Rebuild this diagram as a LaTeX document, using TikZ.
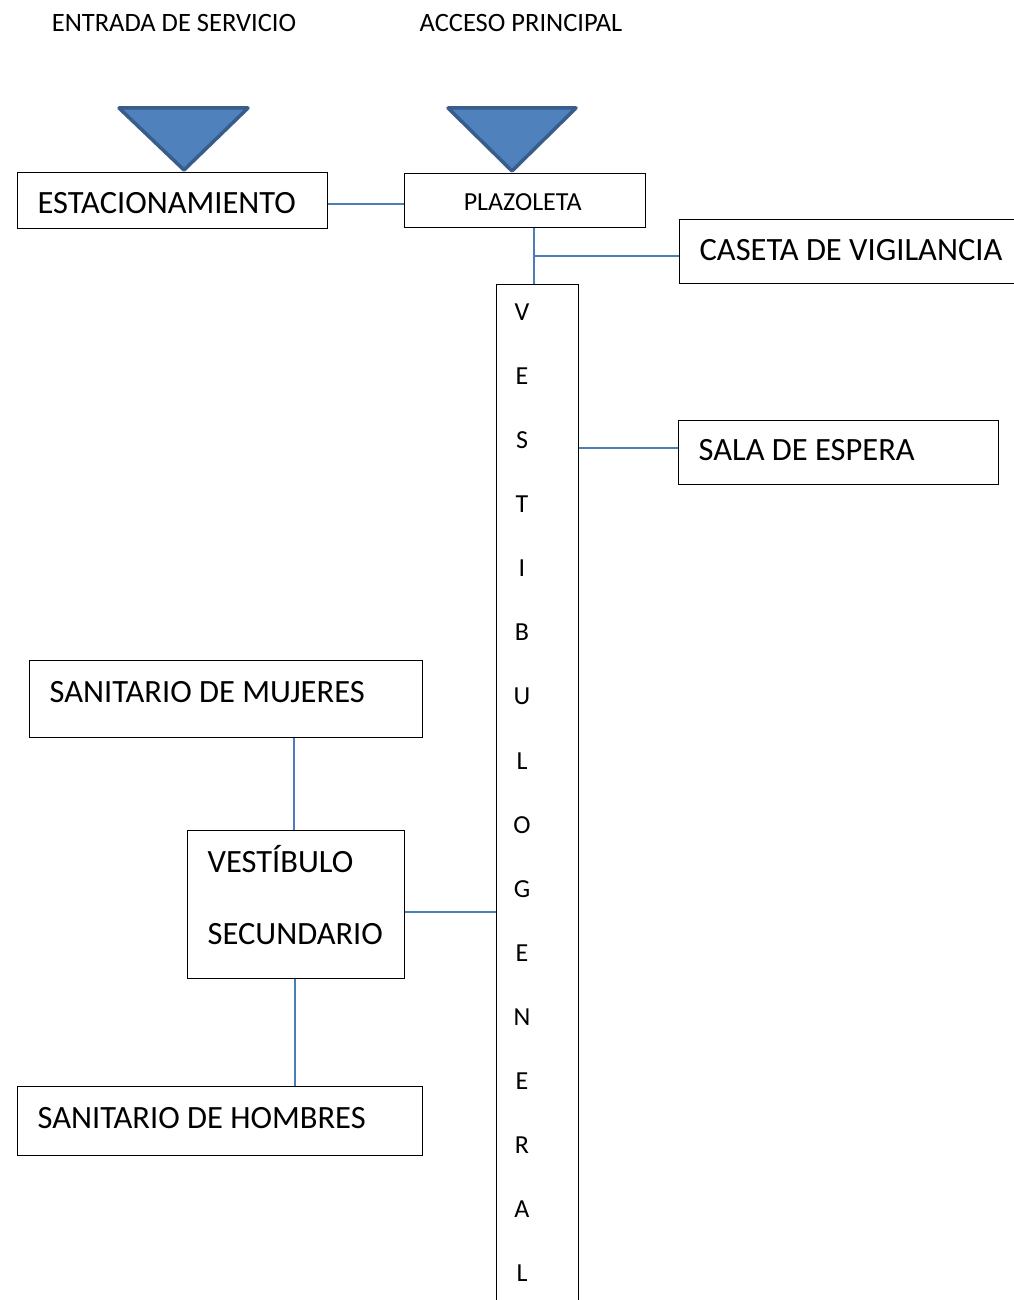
\documentclass[tikz,border=0pt]{standalone}
\usepackage{fontspec}
\setmainfont{Carlito}
\usetikzlibrary{positioning}
\definecolor{tri_fill}{HTML}{4F81BD}
\definecolor{tri_edge}{HTML}{385D8A}
\definecolor{link_blue}{HTML}{4A7EBB}
\tikzset{
  box/.style={draw=black,line width=1.3pt,rectangle,anchor=north west,inner xsep=20pt,inner ysep=0pt,align=flush left,text height=22pt,font=\fontsize{32.5}{38}\selectfont},
  link/.style={draw=link_blue,line width=1.8pt},
  tri/.style={fill=tri_fill,draw=tri_edge,line width=3.5pt,line join=round},
  toplabel/.style={font=\fontsize{26.5}{30}\selectfont},
  letter/.style={font=\fontsize{26}{30}\selectfont}
}

\begin{document}
\begin{tikzpicture}[x=1pt,y=-1pt]
		\useasboundingbox (0,0) rectangle (1013,1300);
		% entradas
		\node[toplabel] (servicio) at (174,23) {ENTRADA DE SERVICIO};
		\node[toplabel] (acceso)   at (521,23) {ACCESO PRINCIPAL};
		\draw[tri] (119,108) -- (248,108) -- (184,170) -- cycle;
		\draw[tri] (448,108) -- (576,108) -- (512,171) -- cycle;
		% espacios
		\node[box,text width=270pt,minimum height=56pt,text height=26pt,text depth=0pt] (estac) at (17,172) {ESTACIONAMIENTO};
		\node[box,align=center,minimum width=241pt,minimum height=54pt,inner sep=0pt,text height=20pt,text depth=0pt,font=\fontsize{26}{30}\selectfont] (plaz) at (404,173) {PLAZOLETA\hspace{5pt}};
		\node[box,text width=313pt,minimum height=64pt,text depth=4pt] (caseta) at (679,219) {CASETA DE VIGILANCIA};
		\node[box,minimum width=82pt,minimum height=1040pt,inner sep=0pt,text height=0pt] (vgen) at (496,284) {};
		\foreach \l [count=\i] in {V,E,S,T,I,B,U,L,O,G,E,N,E,R,A,L}
		{
			\node[letter] (l\i) at (522,{248+64.1*\i}) {\l};
		}
		\node[box,text width=280pt,minimum height=64pt,text depth=6pt] (sala) at (678,420) {SALA DE ESPERA};
		\node[box,text width=353pt,minimum height=77pt,text depth=16pt] (mujeres) at (29,660) {SANITARIO DE MUJERES};
		\node[box,text width=177pt,minimum height=148pt,text height=27pt,text depth=92pt,font=\fontsize{32.5}{72}\selectfont] (vsec) at (187,830) {VESTÍBULO\\SECUNDARIO};
		\node[box,text width=365pt,minimum height=69pt,text depth=8pt] (hombres) at (17,1086) {SANITARIO DE HOMBRES};
		% conexiones
		\coordinate (tronco) at (534,256);
		\draw[link] (estac.east |- 0,204) -- (plaz.west |- 0,204);
		\draw[link] (tronco |- plaz.south) -- (tronco |- vgen.north);
		\draw[link] (tronco) -- (caseta.west |- tronco);
		\draw[link] (vgen.east |- 0,448) -- (sala.west |- 0,448);
		\draw[link] (mujeres.south -| 294,0) -- (vsec.north -| 294,0);
		\draw[link] (vsec.south -| 295,0) -- (hombres.north -| 295,0);
		\draw[link] (vsec.east |- 0,912) -- (vgen.west |- 0,912);
\end{tikzpicture}
\end{document}
